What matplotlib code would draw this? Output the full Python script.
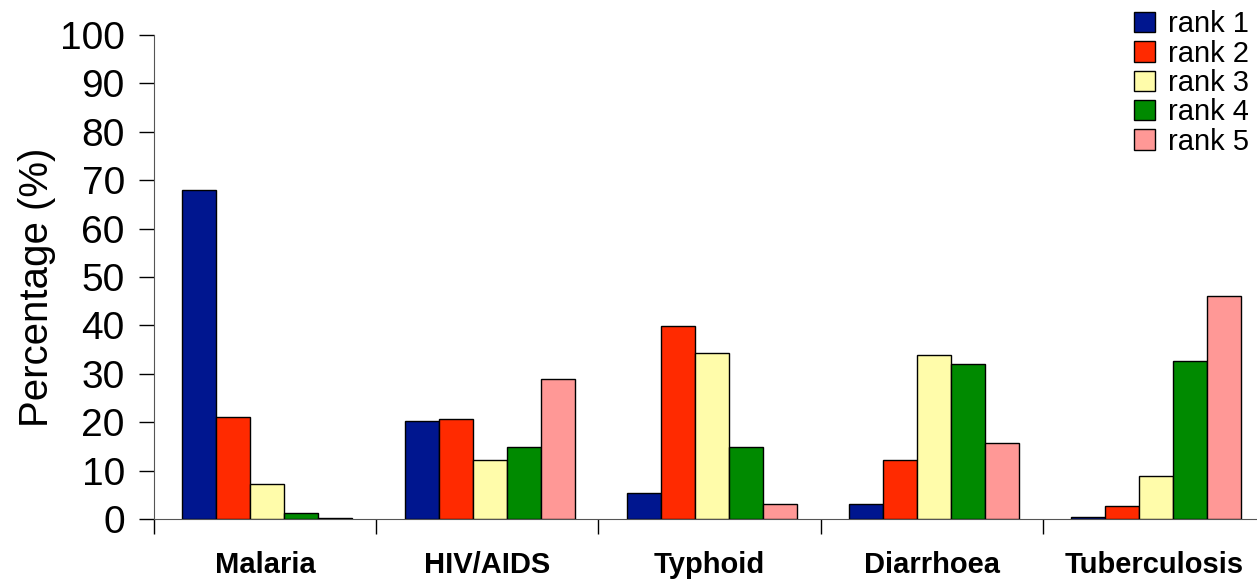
import numpy as np
import matplotlib
matplotlib.use('Agg')
import matplotlib.pyplot as plt
from matplotlib.ticker import FixedLocator

diseases = ['Malaria', 'HIV/AIDS', 'Typhoid', 'Diarrhoea', 'Tuberculosis']
ranks = ['rank 1', 'rank 2', 'rank 3', 'rank 4', 'rank 5']
rank1 = [67.9, 20.3, 5.3, 3.0, 0.4]
rank2 = [21.1, 20.7, 39.9, 12.1, 2.6]
rank3 = [7.2, 12.1, 34.4, 33.8, 8.9]
rank4 = [1.2, 14.8, 14.8, 32.1, 32.6]
rank5 = [0.3, 28.9, 3.0, 15.8, 46.1]
colors = ['#00168F', '#FF2A00', '#FFFCAA', '#008A00', '#FF9896']

plt.rcParams['font.family'] = ['Liberation Sans', 'DejaVu Sans']

fig = plt.figure(figsize=(12.57, 5.79), dpi=100)
ax = fig.add_axes([154/1257, 1-519/579, (1265-154)/1257, (519-35)/579])

x = np.arange(len(diseases))
w = 0.153
for i, (vals, lab) in enumerate(zip([rank1, rank2, rank3, rank4, rank5], ranks)):
    ax.bar(x + (i - 2) * w + 0.01, vals, w, color=colors[i], edgecolor='black',
           linewidth=1, label=lab, zorder=3)

ax.set_xlim(-0.5, 4.5)
ax.set_ylim(0, 100)
ax.set_yticks(range(0, 101, 10))
ax.tick_params(axis='y', labelsize=28, length=11, width=1, direction='out', pad=10)
ax.set_xticks(x)
ax.set_xticklabels(diseases, fontsize=21, fontweight='bold')
ax.tick_params(axis='x', which='major', length=0, pad=23)
ax.xaxis.set_minor_locator(FixedLocator(np.arange(-0.5, 4.6, 1)))
ax.tick_params(axis='x', which='minor', length=11, width=1, direction='out')
ax.set_ylabel('Percentage (%)', fontsize=29)
ax.yaxis.set_label_coords(-0.088, 0.479)

for s in ['top', 'right']:
    ax.spines[s].set_visible(False)
ax.spines['left'].set_color('#555555')
ax.spines['bottom'].set_color('#555555')

ax.legend(loc='upper right', bbox_to_anchor=(1.0 + 8/1257, 1.0 + 6/579), bbox_transform=fig.transFigure,
          fontsize=21, frameon=False, handlelength=0.7, handleheight=0.7,
          handletextpad=0.45, labelspacing=0.05, borderaxespad=0.15)

fig.savefig('out.png', dpi=100)
